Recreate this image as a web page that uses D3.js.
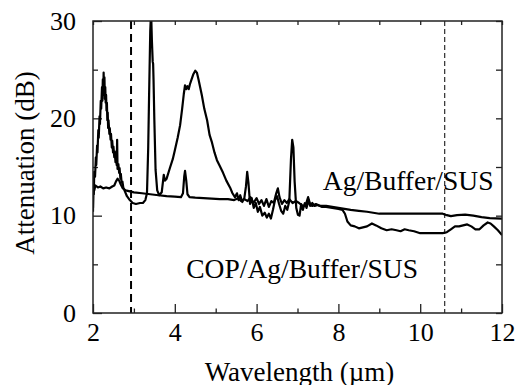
<!DOCTYPE html>
<meta charset="utf-8">
<html>
<head>
<script src="https://d3js.org/d3.v7.min.js"></script>
<style>
    body { margin: 0; background: #fff; }
    svg { display: block; }
    .axis path { display: none; }
    .axis line { stroke: #222; stroke-width: 1.3; }
</style>
</head>
<body>
<svg width="516" height="385"></svg>
<script>
// COP/Ag/Buffer/SUS: [wavelength (um), attenuation (dB)]
const copCurve = [
    [2.00,10.4],[2.01,13.8],[2.02,12.2],[2.03,14.5],[2.05,14.0],[2.07,16.0],[2.08,15.2],[2.10,17.2],
    [2.11,16.5],[2.13,18.8],[2.14,18.0],[2.16,20.2],[2.17,19.4],[2.19,21.8],[2.20,21.0],[2.22,23.2],
    [2.23,21.8],[2.24,24.0],[2.25,22.4],[2.26,24.7],[2.27,22.6],[2.28,24.2],[2.29,22.0],[2.30,23.2],
    [2.31,21.6],[2.32,22.4],[2.33,20.8],[2.34,21.6],[2.35,19.8],[2.36,20.6],[2.37,19.0],[2.38,19.8],
    [2.40,18.4],[2.41,19.0],[2.43,17.8],[2.44,18.4],[2.46,17.0],[2.47,17.7],[2.49,16.5],[2.50,17.1],
    [2.52,16.0],[2.53,16.6],[2.55,15.5],[2.56,16.0],[2.58,15.2],[2.59,17.8],[2.60,14.8],[2.62,15.3],
    [2.64,14.4],[2.65,14.9],[2.67,13.8],[2.68,14.3],[2.70,13.4],[2.72,13.5],[2.74,12.9],[2.78,12.5],
    [2.83,12.0],[2.90,11.6],[2.97,11.3],[3.05,11.2],[3.15,11.3],[3.22,11.3],[3.28,11.6],[3.32,12.3],
    [3.35,17.0],[3.37,22.0],[3.40,29.0],[3.42,31.0],[3.44,28.0],[3.46,25.8],[3.47,25.6],[3.48,24.0],
    [3.50,19.8],[3.53,14.7],[3.57,12.6],[3.62,12.1],[3.68,12.4],[3.73,14.2],[3.76,13.6],[3.80,13.8],
    [3.88,14.9],[3.95,15.8],[4.00,16.7],[4.07,18.0],[4.13,19.3],[4.18,21.0],[4.22,22.5],[4.25,23.4],
    [4.28,23.0],[4.31,23.3],[4.34,23.0],[4.37,23.5],[4.41,24.0],[4.45,24.5],[4.50,24.9],[4.54,24.7],
    [4.58,24.0],[4.62,23.2],[4.66,22.4],[4.72,21.0],[4.79,19.8],[4.85,18.3],[4.91,17.5],[4.97,16.5],
    [5.03,15.7],[5.10,15.1],[5.18,14.4],[5.26,13.6],[5.35,12.9],[5.41,12.3],[5.47,11.9],[5.52,12.3],
    [5.56,11.6],[5.60,12.1],[5.65,11.4],[5.70,11.8],[5.74,13.0],[5.77,14.5],[5.80,13.4],[5.84,11.2],
    [5.88,11.8],[5.93,10.8],[5.98,11.3],[6.03,10.4],[6.08,10.9],[6.14,10.0],[6.20,10.3],[6.25,9.8],
    [6.30,10.2],[6.35,9.7],[6.40,10.6],[6.45,11.6],[6.50,12.0],[6.55,11.2],[6.60,10.5],[6.65,10.2],
    [6.70,11.0],[6.75,10.6],[6.80,11.5],[6.84,15.8],[6.87,17.8],[6.90,17.0],[6.93,13.5],[6.97,10.8],
    [7.01,10.1],[7.05,10.0],[7.09,11.2],[7.13,10.6],[7.18,11.3],[7.22,10.8],[7.27,11.6],[7.31,11.0],
    [7.36,11.3],[7.42,11.0],[7.50,11.1],[7.60,10.9],[7.70,10.9],[7.85,10.8],[8.00,10.7],[8.10,10.6],
    [8.16,10.2],[8.22,9.4],[8.30,9.0],[8.40,8.9],[8.50,8.7],[8.60,8.8],[8.70,8.9],[8.82,9.2],
    [8.92,9.0],[9.05,8.7],[9.18,8.5],[9.30,8.6],[9.42,8.5],[9.52,8.4],[9.62,8.6],[9.72,8.5],
    [9.85,8.4],[10.00,8.2],[10.20,8.2],[10.40,8.2],[10.55,8.2],[10.65,8.3],[10.75,8.6],[10.85,8.9],
    [10.95,8.9],[11.05,9.0],[11.15,9.1],[11.25,8.9],[11.35,8.6],[11.45,8.6],[11.55,9.0],[11.65,9.3],
    [11.72,9.2],[11.80,8.9],[11.90,8.5],[12.00,8.0]
];

// Ag/Buffer/SUS
const agCurve = [
    [2.00,10.8],[2.01,13.4],[2.03,12.6],[2.06,13.1],[2.12,12.9],[2.18,13.0],[2.25,12.8],[2.32,12.9],
    [2.40,12.8],[2.47,13.0],[2.52,13.1],[2.56,13.5],[2.60,13.8],[2.64,13.6],[2.68,13.2],[2.73,12.8],
    [2.80,12.6],[2.90,12.5],[3.00,12.4],[3.20,12.3],[3.40,12.2],[3.60,12.1],[3.80,12.0],[4.00,11.95],
    [4.15,11.9],[4.20,12.3],[4.23,14.0],[4.25,14.6],[4.28,13.6],[4.31,12.2],[4.36,11.9],[4.50,11.85],
    [4.70,11.8],[4.90,11.75],[5.10,11.7],[5.30,11.7],[5.45,11.6],[5.55,11.8],[5.62,11.5],[5.70,11.7],
    [5.78,11.5],[5.85,11.9],[5.92,11.3],[6.00,11.8],[6.06,11.2],[6.12,11.6],[6.18,11.0],[6.24,11.7],
    [6.30,10.9],[6.36,11.5],[6.42,11.3],[6.48,12.3],[6.52,12.8],[6.56,11.9],[6.62,11.2],[6.68,11.6],
    [6.74,11.3],[6.80,11.7],[6.88,11.3],[6.96,11.5],[7.04,11.3],[7.12,11.0],[7.20,11.1],[7.26,11.9],
    [7.30,11.3],[7.36,11.0],[7.45,11.2],[7.55,11.0],[7.70,11.0],[7.85,10.9],[8.00,10.8],[8.15,10.7],
    [8.30,10.6],[8.50,10.5],[8.70,10.4],[8.85,10.3],[9.00,10.2],[9.30,10.2],[9.60,10.2],[10.00,10.2],
    [10.30,10.2],[10.55,10.2],[10.65,10.05],[10.75,9.95],[10.90,10.05],[11.10,10.1],[11.30,10.0],
    [11.50,9.85],[11.70,9.75],[12.00,9.7]
];

// vertical dashed markers (um)
const markers = [2.93, 10.6];
const xTickLabels = [2, 4, 6, 8, 10, 12];
const yTickLabels = [0, 10, 20, 30];
const curveLabels = [
    { text: "Ag/Buffer/SUS", x: 7.62, y: 12.6 },
    { text: "COP/Ag/Buffer/SUS", x: 4.28, y: 3.6 }
];

const FONT = "'Liberation Serif', 'Times New Roman', Times, serif";

const svg = d3.select("svg");
const width = +svg.attr("width");
const height = +svg.attr("height");
const margin = { top: 21, right: 14, bottom: 72, left: 93 };
const innerWidth = width - margin.left - margin.right;
const innerHeight = height - margin.top - margin.bottom;

const x = d3.scaleLinear().domain([2, 12]).range([0, innerWidth]);
const y = d3.scaleLinear().domain([0, 30]).range([innerHeight, 0]);

const g = svg.append("g").attr("transform", `translate(${margin.left},${margin.top})`);

g.append("clipPath").attr("id", "clip")
    .append("rect").attr("width", innerWidth).attr("height", innerHeight);

// ticks, all pointing inward
g.append("g").attr("class", "axis")
    .attr("transform", `translate(0,${innerHeight})`)
    .call(d3.axisBottom(x).tickValues(xTickLabels).tickSize(-9).tickPadding(10).tickFormat(d3.format("d")))
    .attr("font-family", FONT).attr("font-size", 26);
g.append("g").attr("class", "axis")
    .attr("transform", `translate(0,${innerHeight})`)
    .call(d3.axisBottom(x).tickValues(d3.range(3, 12, 2)).tickSize(-4.5).tickFormat(""));
g.append("g").attr("class", "axis")
    .call(d3.axisTop(x).tickValues(d3.range(2, 13, 1)).tickSize(-4).tickFormat(""));
g.append("g").attr("class", "axis")
    .call(d3.axisLeft(y).tickValues(yTickLabels).tickSize(-9).tickPadding(17).tickFormat(d3.format("d")))
    .attr("font-family", FONT).attr("font-size", 26);
g.append("g").attr("class", "axis")
    .call(d3.axisLeft(y).tickValues([5, 15, 25]).tickSize(-5).tickFormat(""));
g.append("g").attr("class", "axis")
    .attr("transform", `translate(${innerWidth},0)`)
    .call(d3.axisRight(y).tickValues(d3.range(0, 31, 5)).tickSize(-6).tickFormat(""));

// dashed markers
g.selectAll(".marker")
    .data(markers)
    .join("line")
    .attr("class", "marker")
    .attr("x1", d => x(d)).attr("x2", d => x(d))
    .attr("y1", 0).attr("y2", innerHeight)
    .attr("stroke", "#000")
    .attr("stroke-width", (d, i) => i === 0 ? 2 : 1)
    .attr("stroke-dasharray", (d, i) => i === 0 ? "8,5" : "5,3");

const line = d3.line().x(d => x(d[0])).y(d => y(d[1]));

g.append("g").attr("clip-path", "url(#clip)")
    .selectAll("path")
    .data([agCurve, copCurve])
    .join("path")
    .attr("d", line)
    .attr("fill", "none")
    .attr("stroke", "#000")
    .attr("stroke-width", 2.2)
    .attr("stroke-linejoin", "round");

// frame
g.append("rect")
    .attr("width", innerWidth).attr("height", innerHeight)
    .attr("fill", "none").attr("stroke", "#222").attr("stroke-width", 1.5);

g.selectAll(".curve-label")
    .data(curveLabels)
    .join("text")
    .attr("class", "curve-label")
    .attr("x", d => x(d.x)).attr("y", d => y(d.y))
    .attr("font-family", FONT)
    .attr("font-size", 27.5)
    .text(d => d.text);

svg.append("text")
    .attr("x", margin.left + innerWidth / 2 + 2)
    .attr("y", 381)
    .attr("text-anchor", "middle")
    .attr("font-family", FONT)
    .attr("font-size", 27)
    .text("Wavelength (\u00b5m)");

svg.append("text")
    .attr("transform", `translate(34,${margin.top + innerHeight / 2 - 4}) rotate(-90)`)
    .attr("text-anchor", "middle")
    .attr("font-family", FONT)
    .attr("font-size", 27)
    .text("Attenuation (dB)");
</script>
</body>
</html>
